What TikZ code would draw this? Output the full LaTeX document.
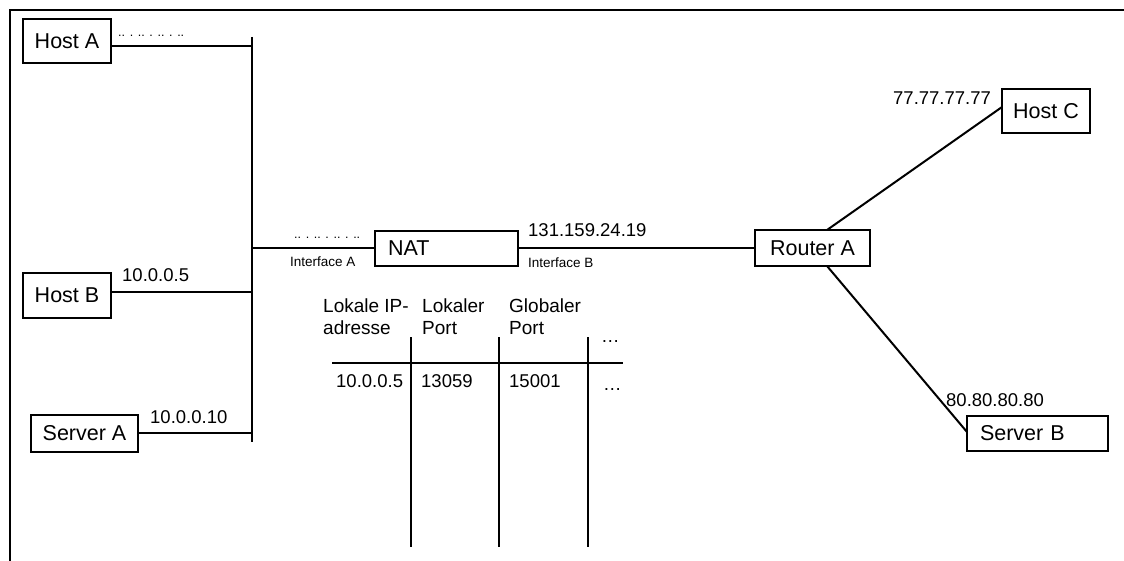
\documentclass[tikz,border=0pt]{standalone}
\usepackage{fontspec}
\setmainfont{Liberation Sans}
\begin{document}
\begin{tikzpicture}[x=1pt,y=-1pt,
  ln/.style={line width=2pt},
  box/.style={draw,line width=2pt,inner sep=0pt,font=\fontsize{21.5}{25}\selectfont},
  lbl/.style={inner sep=0pt,anchor=base west,font=\fontsize{18.5}{21}\selectfont},
  small/.style={inner sep=0pt,anchor=base west,font=\fontsize{13.5}{15}\selectfont},
  dts/.style={inner sep=0pt,anchor=base west,font=\fontsize{12.5}{15}\selectfont},
  hdr/.style={inner sep=0pt,anchor=base west,align=left,font=\fontsize{19}{21.5}\selectfont}]
\useasboundingbox (0,0) rectangle (1124,561);
% frame
\draw[line width=2.2pt] (1124,10) -- (10,10) -- (10,561);
% boxes
\node[box,minimum width=88pt,minimum height=44pt] (hostA) at (67,41) {Host A};
\node[box,minimum width=88pt,minimum height=45pt] (hostB) at (67,295.5) {Host B};
\node[box,minimum width=107pt,minimum height=37pt] (serverA) at (84.5,433.5) {Server A};
\node[box,minimum height=35pt,text width=117pt,inner xsep=13pt,align=left] (nat) at (446.5,248.5) {NAT};
\node[box,minimum width=115pt,minimum height=36pt] (routerA) at (812.5,248) {Router A};
\node[box,minimum width=88pt,minimum height=44pt] (hostC) at (1046,111) {Host C};
\node[box,minimum height=35pt,text width=115pt,inner xsep=13pt,align=left] (serverB) at (1037.5,433.5) {Server B};
% bus
\coordinate (busTop) at (252,37);
\coordinate (busBot) at (252,442);
\draw[ln] (busTop) -- (busBot);
\coordinate (bA) at (252,46);
\coordinate (bB) at (252,292);
\coordinate (bS) at (252,433);
\coordinate (bN) at (252,248);
\draw[ln] (bA -| hostA.east) -- (bA);
\draw[ln] (bB -| hostB.east) -- (bB);
\draw[ln] (bS -| serverA.east) -- (bS);
\draw[ln] (bN) -- (bN -| nat.west);
\draw[ln] (nat.east |- routerA.west) -- (routerA.west);
\coordinate (rTop) at (827,230);
\coordinate (rBot) at (827,266);
\coordinate (cIn) at (1002,107);
\coordinate (sIn) at (967,432);
\draw[ln] (rTop) -- (cIn);
\draw[ln] (rBot) -- (sIn);
% labels
\node[dts] (dotsA) at (118,37) {.. . .. . .. . ..};
\node[lbl] (ipB) at (122,281) {10.0.0.5};
\node[lbl] (ipS) at (150,423) {10.0.0.10};
\node[dts] (dotsN) at (294,239) {.. . .. . .. . ..};
\node[small] (ifA) at (290,267) {Interface A};
\node[lbl] (ipN) at (528,237) {131.159.24.19};
\node[small] (ifB) at (528,268) {Interface B};
\node[lbl] (ipC) at (893,105) {77.77.77.77};
\node[lbl] (ipSB) at (946,406) {80.80.80.80};
% table
\node[hdr] (h1) at (323,334) {Lokale IP-\\adresse};
\node[hdr] (h2) at (422,334) {Lokaler\\Port};
\node[hdr] (h3) at (509,334) {Globaler\\Port};
\node[lbl] (h4) at (601,342) {\dots};
\node[lbl] (c1) at (336,387) {10.0.0.5};
\node[lbl] (c2) at (421,387) {13059};
\node[lbl] (c3) at (509,387) {15001};
\node[lbl] (c4) at (603,390) {\dots};
\draw[ln] (332,363) -- (623,363);
\draw[ln] (411,337) -- (411,547);
\draw[ln] (499,337) -- (499,547);
\draw[ln] (588,337) -- (588,547);
\end{tikzpicture}
\end{document}
